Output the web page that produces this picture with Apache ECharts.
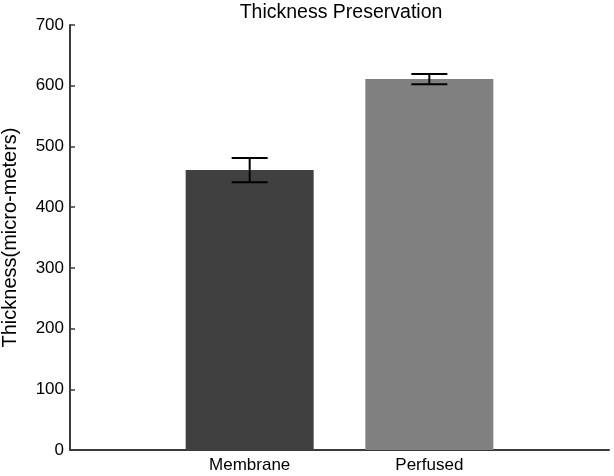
<!DOCTYPE html>
<html>
<head>
<meta charset="utf-8">
<script src="https://cdn.jsdelivr.net/npm/echarts@6/dist/echarts.min.js"></script>
<style>
html,body{margin:0;padding:0;background:#fff;}
#chart{width:614px;height:476px;}
</style>
</head>
<body>
<div id="chart"></div>
<script>
const categories = ['Membrane', 'Perfused'];
const positions = [1, 2];
const means = [461, 611];
const errors = [20, 8.5];
const yTicks = [0, 100, 200, 300, 400, 500, 600, 700];

const barColors = ['#404040', '#808080'];
const FONT = '"Liberation Sans", Arial, sans-serif';

const barData = means.map((m, i) => ({ value: [positions[i], m], itemStyle: { color: barColors[i] } }));
const errData = means.map((m, i) => [positions[i], m - errors[i], m + errors[i]]);

const chart = echarts.init(document.getElementById('chart'), null, { renderer: 'canvas' });
chart.setOption({
  animation: false,
  backgroundColor: '#fff',
  title: {
    text: 'Thickness Preservation',
    left: 341, top: 3, padding: 0,
    textAlign: 'center',
    textStyle: { fontFamily: FONT, fontSize: 19.5, fontWeight: 'normal', color: '#000' }
  },
  grid: { left: 70, right: 5, top: 25, bottom: 26, containLabel: false, outerBoundsMode: 'none' },
  xAxis: {
    type: 'value', min: 0, max: 3, interval: 1,
    splitLine: { show: false },
    axisLine: { show: true, lineStyle: { color: '#3a3a3a', width: 2 } },
    axisTick: { show: false },
    axisLabel: {
      fontFamily: FONT, fontSize: 17, color: '#000', margin: 7,
      formatter: v => { const i = positions.indexOf(v); return i >= 0 ? categories[i] : ''; }
    }
  },
  yAxis: {
    type: 'value', min: yTicks[0], max: yTicks[yTicks.length - 1], interval: 100,
    name: 'Thickness(micro-meters)', nameLocation: 'middle', nameGap: 50,
    nameTextStyle: { fontFamily: FONT, fontSize: 20, color: '#000' },
    splitLine: { show: false },
    axisLine: { show: true, lineStyle: { color: '#3a3a3a', width: 2 } },
    axisTick: { show: true, inside: true, length: 5, lineStyle: { color: '#3a3a3a', width: 1.5 } },
    axisLabel: { fontFamily: FONT, fontSize: 17, color: '#000', margin: 6 }
  },
  series: [
    {
      type: 'bar', data: barData, barWidth: 128
    },
    {
      type: 'custom', data: errData, z: 10,
      renderItem: (params, api) => {
        const x = api.value(0);
        const lo = api.coord([x, api.value(1)]);
        const hi = api.coord([x, api.value(2)]);
        const hw = 18;
        const style = { stroke: '#000', lineWidth: 2 };
        return {
          type: 'group',
          children: [
            { type: 'line', shape: { x1: lo[0], y1: lo[1], x2: hi[0], y2: hi[1] }, style },
            { type: 'line', shape: { x1: hi[0] - hw, y1: hi[1], x2: hi[0] + hw, y2: hi[1] }, style },
            { type: 'line', shape: { x1: lo[0] - hw, y1: lo[1], x2: lo[0] + hw, y2: lo[1] }, style }
          ]
        };
      }
    }
  ]
});
</script>
</body>
</html>
